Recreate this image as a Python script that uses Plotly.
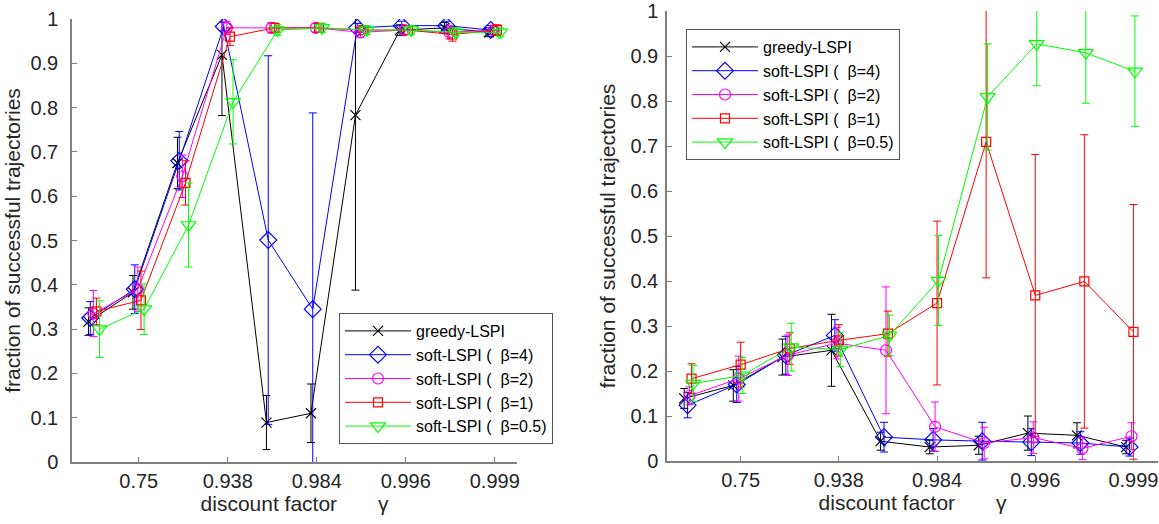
import plotly.graph_objects as go

# ---------------- data ----------------
POSITIONS = [1, 2, 3, 4, 5, 6, 7, 8, 9, 10]
TICK_POS = [2, 4, 6, 8, 10]
TICK_TEXT = ["0.75", "0.938", "0.984", "0.996", "0.999"]
SERIES_NAMES = ["greedy-LSPI", "soft-LSPI (\u00a0 β=4)", "soft-LSPI (\u00a0 β=2)",
                "soft-LSPI (\u00a0 β=1)", "soft-LSPI (\u00a0 β=0.5)"]

# left panel
L_greedy = [0.317, 0.383, 0.675, 0.919, 0.089, 0.110, 0.783, 0.975, 0.980, 0.970]
L_greedy_err = [0.031, 0.038, 0.058, 0.137, 0.061, 0.066, 0.395, 0.012, 0.012, 0.010]
L_b4 = [0.325, 0.390, 0.680, 0.983, 0.501, 0.345, 0.980, 0.985, 0.985, 0.975]
L_b4_err = [0.037, 0.055, 0.066, 0.010, 0.416, 0.443, 0.010, 0.010, 0.010, 0.010]
L_b2 = [0.335, 0.390, 0.645, 0.980, 0.980, 0.980, 0.970, 0.975, 0.970, 0.975]
L_b2_err = [0.052, 0.050, 0.048, 0.015, 0.012, 0.010, 0.012, 0.010, 0.015, 0.010]
L_b1 = [0.340, 0.365, 0.630, 0.960, 0.980, 0.980, 0.975, 0.975, 0.965, 0.975]
L_b1_err = [0.030, 0.066, 0.050, 0.020, 0.010, 0.010, 0.010, 0.010, 0.015, 0.012]
L_b05 = [0.300, 0.345, 0.535, 0.813, 0.975, 0.980, 0.975, 0.975, 0.970, 0.970]
L_b05_err = [0.064, 0.057, 0.095, 0.095, 0.012, 0.010, 0.010, 0.010, 0.010, 0.010]

# right panel
R_greedy = [0.139, 0.168, 0.231, 0.246, 0.044, 0.031, 0.035, 0.062, 0.057, 0.031]
R_greedy_err = [0.022, 0.035, 0.040, 0.080, 0.020, 0.015, 0.020, 0.038, 0.028, 0.015]
R_b4 = [0.124, 0.170, 0.235, 0.279, 0.053, 0.047, 0.044, 0.042, 0.040, 0.031]
R_b4_err = [0.028, 0.040, 0.042, 0.035, 0.033, 0.025, 0.042, 0.030, 0.025, 0.020]
R_b2 = [0.145, 0.183, 0.235, 0.262, 0.246, 0.076, 0.040, 0.052, 0.028, 0.055]
R_b2_err = [0.020, 0.050, 0.045, 0.035, 0.141, 0.055, 0.035, 0.035, 0.025, 0.030]
R_b1 = [0.183, 0.214, 0.250, 0.268, 0.283, 0.351, 0.709, 0.368, 0.399, 0.287]
R_b1_err = [0.033, 0.050, 0.035, 0.035, 0.050, 0.182, 0.302, 0.313, 0.326, 0.283]
R_b05 = [0.172, 0.190, 0.253, 0.248, 0.279, 0.401, 0.809, 0.927, 0.907, 0.866]
R_b05_err = [0.040, 0.040, 0.053, 0.038, 0.045, 0.100, 0.118, 0.093, 0.112, 0.123]

# ---------------- style ----------------
COLORS = ["#000000", "#0000ff", "#ff00ff", "#ff0000", "#00ff00"]
SYMBOLS = ["x-thin-open", "diamond-open", "circle-open", "square-open", "triangle-down-open"]
SIZES = [10, 13, 11, 9, 13]
JITTER_L = [-0.13, -0.09, -0.02, 0.05, 0.12]
JITTER_R = [-0.15, -0.08, -0.04, 0.0, 0.03]
FONT = "Liberation Sans, Arial, Helvetica, sans-serif"

left = [(L_greedy, L_greedy_err), (L_b4, L_b4_err), (L_b2, L_b2_err),
        (L_b1, L_b1_err), (L_b05, L_b05_err)]
right = [(R_greedy, R_greedy_err), (R_b4, R_b4_err), (R_b2, R_b2_err),
         (R_b1, R_b1_err), (R_b05, R_b05_err)]

fig = go.Figure()

for data, jit, xa, ya, lg in [
        (left, JITTER_L, "x", "y", "legend"),
        (right, JITTER_R, "x2", "y2", "legend2")]:
    for k, (vals, errs) in enumerate(data):
        fig.add_trace(go.Scatter(
            x=[p + jit[k] for p in POSITIONS],
            y=vals,
            mode="lines+markers",
            name=SERIES_NAMES[k],
            line=dict(color=COLORS[k], width=1),
            marker=dict(symbol=SYMBOLS[k], size=SIZES[k], color=COLORS[k],
                        line=dict(color=COLORS[k], width=1.2)),
            error_y=dict(type="data", array=errs, visible=True,
                         color=COLORS[k], thickness=1, width=4),
            xaxis=xa, yaxis=ya, legend=lg,
        ))

axis_common = dict(showline=True, linecolor="#7f7f7f", linewidth=1.5,
                   ticks="inside", ticklen=5, tickcolor="#7f7f7f",
                   showgrid=False, zeroline=False, automargin=False,
                   tickfont=dict(size=20, color="#262626", family=FONT))

xcommon = dict(axis_common, range=[0.5, 10.5], tickmode="array",
               tickvals=TICK_POS, ticktext=TICK_TEXT,
               title=dict(text="discount factor\u00a0\u00a0\u00a0\u00a0\u00a0\u00a0\u00a0γ",
                          font=dict(size=21, color="#262626", family=FONT), standoff=6))
ycommon = dict(axis_common, range=[0, 1], tickmode="array",
               tickvals=[i / 10 for i in range(11)],
               ticktext=["0", "0.1", "0.2", "0.3", "0.4", "0.5", "0.6", "0.7", "0.8", "0.9", "1"],
               title=dict(text="fraction of successful trajectories",
                          font=dict(size=21, color="#262626", family=FONT)))

legend_common = dict(xanchor="left", yanchor="top", bgcolor="white",
                     bordercolor="#555555", borderwidth=1,
                     font=dict(size=16, color="#000000", family=FONT),
                     itemwidth=66, tracegroupgap=0)

W, H = 1159, 524
fig.update_layout(
    template="none",
    width=W, height=H,
    margin=dict(l=0, r=0, t=0, b=0, autoexpand=False),
    paper_bgcolor="white", plot_bgcolor="white",
    font=dict(family=FONT, color="#262626"),
    xaxis=dict(xcommon, domain=[72 / W, 517 / W], anchor="y"),
    yaxis=dict(ycommon, domain=[62 / H, 505 / H], anchor="x", ticklabelstandoff=8),
    xaxis2=dict(xcommon, domain=[667 / W, 1158 / W], anchor="y2"),
    yaxis2=dict(ycommon, domain=[63 / H, 513 / H], anchor="x2", ticklabelstandoff=3),
    legend=dict(legend_common, x=339 / W, y=1 - 313 / H),
    legend2=dict(legend_common, x=686 / W, y=1 - 29 / H),
)

fig.write_html("out.html", config={"displayModeBar": False},
               post_script="document.body.style.margin='0';document.body.style.overflow='hidden';")
